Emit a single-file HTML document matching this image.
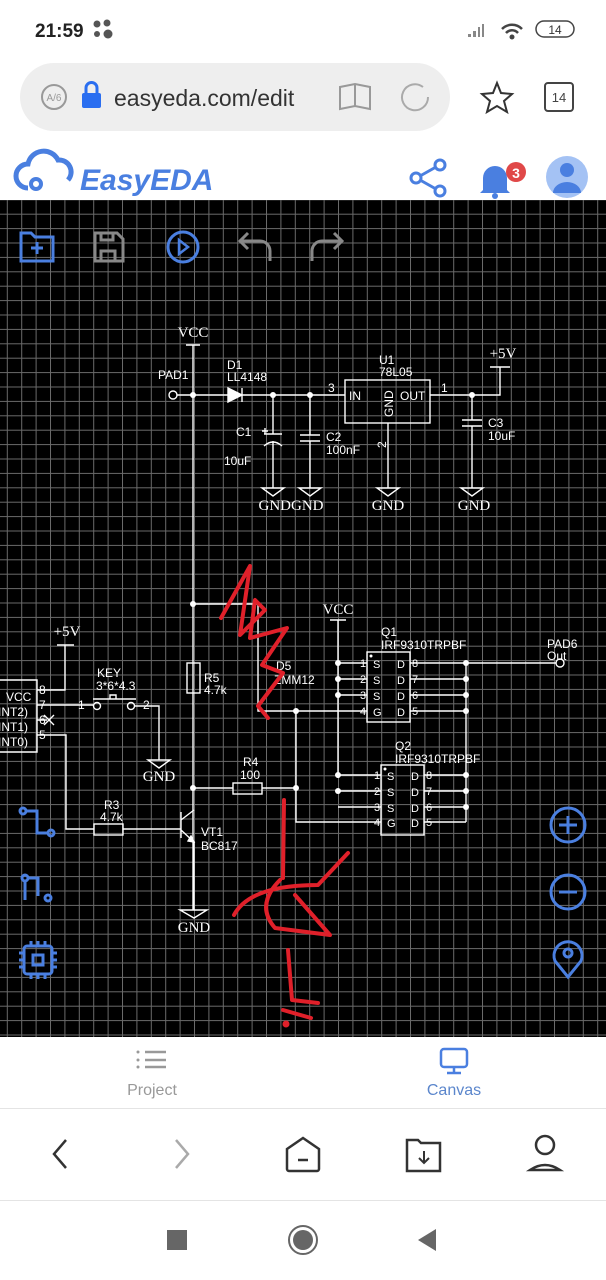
<!DOCTYPE html>
<html><head><meta charset="utf-8"><style>
html,body{margin:0;padding:0;width:606px;height:1280px;overflow:hidden;background:#fff;font-family:"Liberation Sans",sans-serif}
svg{display:block}
</style></head><body>
<svg width="606" height="1280" viewBox="0 0 606 1280" xmlns="http://www.w3.org/2000/svg" font-family="Liberation Sans, sans-serif">
<defs>
<pattern id="g" x="6.8" y="12.1" width="14.4" height="14.4" patternUnits="userSpaceOnUse">
<path d="M0 0.5H14.4M0.5 0V14.4" stroke="#6a6a6a" stroke-width="1" fill="none"/>
</pattern>
</defs>
<rect width="606" height="1280" fill="#fff"/>
<!-- status bar -->
<text x="35" y="37" font-size="19" font-weight="bold" fill="#222">21:59</text>
<circle cx="97" cy="24" r="3.5" fill="#555"/><circle cx="107" cy="23" r="3.5" fill="#555"/><circle cx="97" cy="34" r="3" fill="#555"/><circle cx="108" cy="34" r="4.5" fill="#555"/>
<path d="M468 37h3v-3h-3zM473 37h3v-6h-3zM478 37h2v-10h-2zM482 37h2v-13h-2z" fill="#888"/>
<path d="M502 29a14 14 0 0 1 20 0M506 33a8 8 0 0 1 12 0" stroke="#444" stroke-width="2.5" fill="none"/><circle cx="512" cy="37" r="2.5" fill="#444"/>
<rect x="536" y="21" width="38" height="16" rx="8" fill="none" stroke="#444" stroke-width="1.5"/><text x="555" y="34" font-size="12" text-anchor="middle" fill="#333">14</text>
<!-- address bar -->
<rect x="20" y="63" width="430" height="68" rx="34" fill="#eeeeee"/>
<circle cx="54" cy="97" r="12" fill="none" stroke="#999" stroke-width="2"/><text x="54" y="101" font-size="10" text-anchor="middle" fill="#999">A/6</text>
<rect x="82" y="93" width="19" height="15" rx="2" fill="#2a6ef0"/><path d="M86 93v-5a5.5 5.5 0 0 1 11 0v5" stroke="#2a6ef0" stroke-width="3" fill="none"/>
<text x="114" y="106" font-size="23" fill="#333">easyeda.com/edit</text>
<path d="M340 87v22l15-3 15 3v-22l-15-3zM355 84v22" stroke="#999" stroke-width="2" fill="none"/>
<path d="M428 97a13 13 0 1 1-5-10" stroke="#aaa" stroke-width="2" fill="none"/>
<path d="M497 83l4 10 11 1-8 7 3 11-10-6-10 6 3-11-8-7 11-1z" stroke="#333" stroke-width="2" fill="none"/>
<rect x="545" y="83" width="28" height="28" rx="3" fill="none" stroke="#444" stroke-width="2"/><text x="559" y="102" font-size="13" text-anchor="middle" fill="#444">14</text>
<!-- header -->
<path d="M28 188a12 12 0 0 1 0-24a16 16 0 0 1 30-4a12 12 0 0 1 10 20" stroke="#4a7fe0" stroke-width="5" fill="none"/><circle cx="36" cy="184" r="5" stroke="#4a7fe0" stroke-width="4" fill="none"/>
<text x="80" y="190" font-size="30" font-weight="bold" font-style="italic" fill="#4a7fe0">EasyEDA</text>
<circle cx="416" cy="178" r="5" stroke="#4a7fe0" stroke-width="3" fill="none"/><circle cx="440" cy="165" r="5" stroke="#4a7fe0" stroke-width="3" fill="none"/><circle cx="440" cy="191" r="5" stroke="#4a7fe0" stroke-width="3" fill="none"/><path d="M420 176l16-9M420 180l16 9" stroke="#4a7fe0" stroke-width="3"/>
<path d="M483 190v-12a12 12 0 0 1 24 0v12l3 3h-30z" fill="#4a7fe0"/><circle cx="495" cy="196" r="3" fill="#4a7fe0"/>
<circle cx="516" cy="172" r="10" fill="#e04848"/><text x="516" y="178" font-size="14" font-weight="bold" text-anchor="middle" fill="#fff">3</text>
<circle cx="567" cy="177" r="21" fill="#a4c2f4"/><circle cx="567" cy="170" r="7" fill="#4a7fe0"/><path d="M553 193a14 11 0 0 1 28 0z" fill="#4a7fe0"/>
<!-- canvas -->
<rect x="0" y="200" width="606" height="837" fill="#000"/>
<rect x="0" y="200" width="606" height="837" fill="url(#g)"/>
<!-- toolbar -->
<g fill="none" stroke-width="3">
<path d="M21 233h10l4 4h18v24h-32z" stroke="#4a7fe0"/><path d="M37 242v12M31 248h12" stroke="#4a7fe0"/>
<path d="M95 233h22l6 6v22h-28z" stroke="#888"/><path d="M101 233v7h12v-7M101 261v-10h14v10" stroke="#888"/>
<circle cx="183" cy="247" r="15" stroke="#4a7fe0"/><path d="M179 240l9 7-9 7z" stroke="#4a7fe0" stroke-width="2.5"/>
<path d="M240 241h20a10 10 0 0 1 10 10v10M248 233l-8 8 8 8" stroke="#888"/>
<path d="M342 241h-20a10 10 0 0 0-10 10v10M334 233l8 8-8 8" stroke="#888"/>
</g>
<!-- schematic -->
<g stroke="#fff" stroke-width="1.4" fill="none">
<path d="M186 345h14M193 345V910"/>
<circle cx="173" cy="395" r="4"/>
<path d="M177 395H228M242 395H345"/>
<path d="M228 388v14l14-7z" fill="#fff"/><path d="M242 388v14"/>
<path d="M273 395v39M264 434h18M264 446q9-8 18 0M273 441v47"/>
<path d="M262 431h6M265 428v6"/>
<path d="M310 395v40M300 435h20M300 441h20M310 441v47"/>
<rect x="345" y="380" width="85" height="43"/>
<path d="M388 423v65"/>
<path d="M430 395H500V367M490 367h20"/>
<path d="M472 395v25M462 420h20M462 426h20M472 426v62"/>
<path d="M262 488h22l-11 8zM299 488h22l-11 8zM377 488h22l-11 8zM461 488h22l-11 8z"/>
<path d="M193 604H258V711H367M296 711V822H381"/>
<rect x="187" y="663" width="13" height="30"/>
<path d="M193 788H233M262 788H296"/>
<rect x="233" y="783" width="29" height="11"/>
<path d="M330 620h16M338 620V778"/>
<rect x="367" y="652" width="43" height="70"/>
<path d="M338 663H367M338 679H367M338 695H367"/>
<path d="M410 663H560M410 679H466M410 695H466M410 711H466M466 663V822"/>
<circle cx="560" cy="663" r="4" fill="#000"/>
<rect x="381" y="765" width="43" height="70"/>
<path d="M338 775H381M338 791H381M338 807H381"/>
<path d="M424 775H466M424 791H466M424 807H466M424 822H466"/>
<path d="M-5 680H37V752H-5"/>
<path d="M37 690H65V645M57 645h17"/>
<path d="M37 705H93M135 706H159V760M148 760h22l-11 8z"/>
<circle cx="97" cy="706" r="3.5"/><circle cx="131" cy="706" r="3.5"/>
<path d="M93 699h43M110 699v-4h6v4"/>
<path d="M37 720h10M44 715l10 10M44 725l10-10"/>
<path d="M37 735H66V829H94M123 829H181"/>
<rect x="94" y="824" width="29" height="11"/>
<path d="M181 812v26M181 820L194 810M181 830L194 842V910M180 910h27l-13 8z"/>
<path d="M194 842l-6-1 3-5z" fill="#fff"/>
</g>
<g fill="#fff" stroke="none">
<circle cx="193" cy="395" r="3"/><circle cx="273" cy="395" r="3"/><circle cx="310" cy="395" r="3"/><circle cx="472" cy="395" r="3"/>
<circle cx="193" cy="604" r="3"/><circle cx="193" cy="788" r="3"/><circle cx="296" cy="711" r="3"/><circle cx="296" cy="788" r="3"/>
<circle cx="338" cy="663" r="3"/><circle cx="338" cy="679" r="3"/><circle cx="338" cy="695" r="3"/><circle cx="338" cy="775" r="3"/><circle cx="338" cy="791" r="3"/>
<circle cx="466" cy="663" r="3"/><circle cx="466" cy="679" r="3"/><circle cx="466" cy="695" r="3"/><circle cx="466" cy="711" r="3"/>
<circle cx="466" cy="775" r="3"/><circle cx="466" cy="791" r="3"/><circle cx="466" cy="807" r="3"/>
<circle cx="371" cy="656" r="1.5"/><circle cx="385" cy="769" r="1.5"/>
</g>
<g fill="#fff" font-size="12">
<g font-family="Liberation Serif, serif" font-size="15">
<text x="193" y="337" text-anchor="middle">VCC</text>
<text x="503" y="358" text-anchor="middle">+5V</text>
<text x="291" y="510" text-anchor="middle">GNDGND</text>
<text x="388" y="510" text-anchor="middle">GND</text>
<text x="474" y="510" text-anchor="middle">GND</text>
<text x="338" y="614" text-anchor="middle">VCC</text>
<text x="67" y="636" text-anchor="middle">+5V</text>
<text x="159" y="781" text-anchor="middle">GND</text>
<text x="194" y="932" text-anchor="middle">GND</text>
</g>
<text x="158" y="379">PAD1</text>
<text x="227" y="369">D1</text><text x="227" y="381">LL4148</text>
<text x="379" y="364">U1</text><text x="379" y="376">78L05</text>
<text x="349" y="400">IN</text><text x="400" y="400">OUT</text>
<text x="328" y="392">3</text><text x="441" y="392">1</text>
<text transform="translate(393 417) rotate(-90)">GND</text>
<text transform="translate(386 448) rotate(-90)">2</text>
<text x="236" y="436">C1</text><text x="224" y="465">10uF</text>
<text x="326" y="441">C2</text><text x="326" y="454">100nF</text>
<text x="488" y="427">C3</text><text x="488" y="440">10uF</text>
<text x="204" y="682">R5</text><text x="204" y="694">4.7k</text>
<text x="276" y="670">D5</text><text x="274" y="684">ZMM12</text>
<text x="381" y="636">Q1</text><text x="381" y="649">IRF9310TRPBF</text>
<text x="395" y="750">Q2</text><text x="395" y="763">IRF9310TRPBF</text>
<text x="547" y="648">PAD6</text><text x="547" y="660">Out</text>
<text x="243" y="766">R4</text><text x="240" y="779">100</text>
<text x="104" y="809">R3</text><text x="100" y="821">4.7k</text>
<text x="201" y="836">VT1</text><text x="201" y="850">BC817</text>
<text x="97" y="677">KEY</text><text x="96" y="690">3*6*4.3</text>
<text x="78" y="709">1</text><text x="143" y="709">2</text>
<text x="6" y="701">VCC</text><text x="-2" y="716">INT2)</text><text x="-2" y="731">INT1)</text><text x="-2" y="746">INT0)</text>
<text x="39" y="694">8</text><text x="39" y="709">7</text><text x="39" y="724">6</text><text x="39" y="739">5</text>
<g font-size="11">
<text x="360" y="667">1</text><text x="360" y="683">2</text><text x="360" y="699">3</text><text x="360" y="715">4</text>
<text x="373" y="668">S</text><text x="373" y="684">S</text><text x="373" y="700">S</text><text x="373" y="716">G</text>
<text x="397" y="668">D</text><text x="397" y="684">D</text><text x="397" y="700">D</text><text x="397" y="716">D</text>
<text x="412" y="667">8</text><text x="412" y="683">7</text><text x="412" y="699">6</text><text x="412" y="715">5</text>
<text x="374" y="779">1</text><text x="374" y="795">2</text><text x="374" y="811">3</text><text x="374" y="826">4</text>
<text x="387" y="780">S</text><text x="387" y="796">S</text><text x="387" y="812">S</text><text x="387" y="827">G</text>
<text x="411" y="780">D</text><text x="411" y="796">D</text><text x="411" y="812">D</text><text x="411" y="827">D</text>
<text x="426" y="779">8</text><text x="426" y="795">7</text><text x="426" y="811">6</text><text x="426" y="826">5</text>
</g>
</g>
<!-- red scribbles -->
<g stroke="#e0202a" stroke-width="4" fill="none" stroke-linecap="round" stroke-linejoin="round">
<path d="M221 618L250 566L240 635L265 610L255 600L250 638L287 628L262 665L283 673L258 706L268 718"/>
<path d="M284 800L283 878"/>
<path d="M234 915Q250 885 318 885L348 853"/>
<path d="M280 880Q255 905 275 928L330 935L295 895"/>
<path d="M288 950L292 1000L318 1003"/>
<path d="M283 1010L311 1018"/><circle cx="286" cy="1024" r="1.5" fill="#e0202a"/>
</g>
<!-- left tools -->
<g stroke="#4a7fe0" stroke-width="3" fill="none">
<circle cx="23" cy="811" r="3"/><path d="M26 811h11v22h11"/><circle cx="51" cy="833" r="3"/>
<circle cx="25" cy="878" r="3"/><path d="M25 882v18M29 878h9v18"/><circle cx="48" cy="898" r="3"/>
<rect x="24" y="946" width="28" height="28" rx="3"/><rect x="33" y="955" width="10" height="10"/>
<path d="M31 941v5M38 941v5M45 941v5M31 974v5M38 974v5M45 974v5M19 953h5M19 960h5M19 967h5M52 953h5M52 960h5M52 967h5"/>
<circle cx="568" cy="825" r="17"/><path d="M568 816v18M559 825h18"/>
<circle cx="568" cy="892" r="17"/><path d="M559 892h18"/>
<path d="M568 977l-13-16a14 14 0 1 1 26 0z"/><circle cx="568" cy="953" r="4"/>
</g>
<!-- bottom tabs -->
<rect x="0" y="1037" width="606" height="243" fill="#fff"/>
<g fill="#999"><circle cx="138" cy="1052" r="1.5"/><circle cx="138" cy="1060" r="1.5"/><circle cx="138" cy="1067" r="1.5"/></g>
<path d="M145 1052h21M145 1060h21M145 1067h21" stroke="#999" stroke-width="2.5"/>
<text x="152" y="1095" font-size="16" fill="#999" text-anchor="middle">Project</text>
<rect x="441" y="1049" width="26" height="18" rx="3" fill="none" stroke="#4a7fe0" stroke-width="2.5"/><path d="M454 1067v5M447 1073h14" stroke="#4a7fe0" stroke-width="2.5"/>
<text x="454" y="1095" font-size="16" fill="#5b86cc" text-anchor="middle">Canvas</text>
<path d="M0 1108.5H606M0 1200.5H606" stroke="#e4e4e4" stroke-width="1"/>
<g fill="none" stroke-width="2.5">
<path d="M66 1140l-12 14 12 14" stroke="#333"/>
<path d="M176 1140l12 14-12 14" stroke="#aaa"/>
<path d="M287 1149l16-11 16 11v20a2 2 0 0 1-2 2h-28a2 2 0 0 1-2-2z" stroke="#333"/><path d="M298 1160h10" stroke="#333"/>
<path d="M407 1140h11l3 3h19v28h-33z" stroke="#333"/><path d="M424 1151v11M419 1158l5 5 5-5" stroke="#333" stroke-width="2"/>
<circle cx="545" cy="1145" r="9" stroke="#333"/><path d="M530 1170q15-10 30 0z" stroke="#333"/>
</g>
<rect x="167" y="1230" width="20" height="20" fill="#666"/>
<circle cx="303" cy="1240" r="14" fill="none" stroke="#666" stroke-width="2"/><circle cx="303" cy="1240" r="10" fill="#666"/>
<path d="M436 1229v22l-18-11z" fill="#666"/>
</svg>
</body></html>
